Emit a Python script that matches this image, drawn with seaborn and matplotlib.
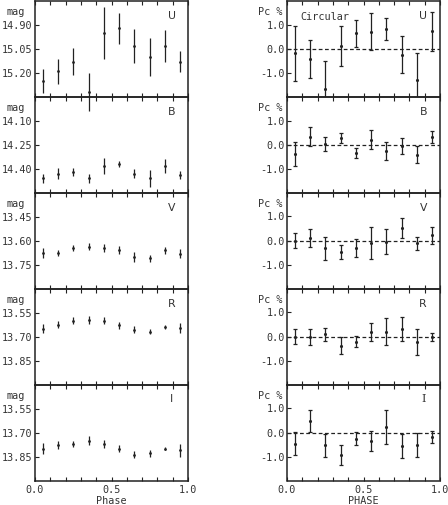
import numpy as np
import pandas as pd
import matplotlib
matplotlib.use("Agg")
import matplotlib.pyplot as plt
import seaborn as sns

# ---------------- data ----------------
phase = [0.05, 0.15, 0.25, 0.35, 0.45, 0.55, 0.65, 0.75, 0.85, 0.95]
bands = ["U", "B", "V", "R", "I"]

mag_U = [15.25, 15.19, 15.13, 15.32, 14.95, 14.92, 15.03, 15.10, 15.03, 15.13]
mag_U_err = [0.075, 0.077, 0.085, 0.12, 0.16, 0.096, 0.106, 0.12, 0.10, 0.066]
mag_B = [14.46, 14.43, 14.42, 14.46, 14.38, 14.37, 14.43, 14.46, 14.38, 14.44]
mag_B_err = [0.03, 0.034, 0.028, 0.03, 0.05, 0.02, 0.03, 0.055, 0.044, 0.025]
mag_V = [13.675, 13.675, 13.644, 13.638, 13.644, 13.66, 13.70, 13.71, 13.66, 13.68]
mag_V_err = [0.03, 0.02, 0.02, 0.022, 0.025, 0.025, 0.03, 0.02, 0.02, 0.03]
mag_R = [13.65, 13.625, 13.60, 13.594, 13.60, 13.63, 13.656, 13.67, 13.64, 13.645]
mag_R_err = [0.03, 0.022, 0.02, 0.025, 0.02, 0.02, 0.022, 0.016, 0.01, 0.03]
mag_I = [13.80, 13.78, 13.77, 13.75, 13.77, 13.80, 13.84, 13.83, 13.80, 13.81]
mag_I_err = [0.034, 0.025, 0.02, 0.028, 0.025, 0.022, 0.022, 0.022, 0.012, 0.04]

pc_U = [-0.18, -0.41, -1.66, 0.11, 0.64, 0.71, 0.82, -0.23, -1.29, 0.72]
pc_U_err = [1.13, 0.78, 1.18, 0.83, 0.56, 0.76, 0.45, 0.75, 1.12, 0.80]
pc_B = [-0.37, 0.34, 0.04, 0.28, -0.33, 0.21, -0.26, -0.04, -0.40, 0.32]
pc_B_err = [0.50, 0.40, 0.28, 0.21, 0.21, 0.39, 0.36, 0.34, 0.34, 0.24]
pc_V = [0.0, 0.13, -0.31, -0.48, -0.31, -0.08, -0.04, 0.53, -0.10, 0.22]
pc_V_err = [0.31, 0.37, 0.47, 0.29, 0.37, 0.65, 0.52, 0.41, 0.27, 0.34]
pc_R = [0.0, -0.03, 0.10, -0.37, -0.21, 0.18, 0.21, 0.32, -0.23, -0.03]
pc_R_err = [0.32, 0.33, 0.26, 0.35, 0.23, 0.37, 0.54, 0.50, 0.53, 0.16]
pc_I = [-0.46, 0.48, -0.52, -0.92, -0.25, -0.34, 0.23, -0.55, -0.51, -0.18]
pc_I_err = [0.48, 0.46, 0.47, 0.41, 0.28, 0.40, 0.70, 0.50, 0.48, 0.26]

mag_ticks = {
    "U": ["14.90", "15.05", "15.20"],
    "B": ["14.10", "14.25", "14.40"],
    "V": ["13.45", "13.60", "13.75"],
    "R": ["13.55", "13.70", "13.85"],
    "I": ["13.55", "13.70", "13.85"],
}
pc_ticks = [1.0, 0.0, -1.0]
pc_tick_labels = ["1.0", "0.0", "-1.0"]
x_ticks = [0.0, 0.5, 1.0]
x_tick_labels = ["0.0", "0.5", "1.0"]

mags = {"U": (mag_U, mag_U_err), "B": (mag_B, mag_B_err), "V": (mag_V, mag_V_err),
        "R": (mag_R, mag_R_err), "I": (mag_I, mag_I_err)}
pcs = {"U": (pc_U, pc_U_err), "B": (pc_B, pc_B_err), "V": (pc_V, pc_V_err),
       "R": (pc_R, pc_R_err), "I": (pc_I, pc_I_err)}

# ---------------- style ----------------
sns.set_style("ticks")
plt.rcParams["font.family"] = ["DejaVu Sans Mono", "DejaVu Sans"]
FS = 7.3
TXT = "#333333"
INK = "#222222"

W, H = 448, 505
fig = plt.figure(figsize=(W / 100, H / 100), dpi=100)

top_px, bot_px = 1.0, 480.5
ph = (bot_px - top_px) / 5
lx0, rx0, aw = 35.0, 287.0, 153.0


def style_axes(ax, show_xlabels):
    ax.set_facecolor("none")
    for s in ax.spines.values():
        s.set_color(INK)
        s.set_linewidth(1.1)
    ax.set_xlim(0, 1)
    ax.set_xticks(x_ticks)
    ax.set_xticks(np.arange(0.1, 1.0, 0.1), minor=True)
    ax.tick_params(axis="x", which="both", direction="in", top=True, bottom=True,
                   length=3, width=0.8, color=INK, labelsize=FS, labelcolor=TXT, pad=3)
    ax.tick_params(axis="y", which="both", direction="in", left=True, right=False,
                   length=3, width=0.8, color=INK, labelsize=FS, labelcolor=TXT, pad=1.5)
    if show_xlabels:
        ax.set_xticklabels(x_tick_labels)
    else:
        ax.set_xticklabels([])


for i, band in enumerate(bands):
    ybot = 1 - (top_px + ph * (i + 1)) / H
    last = i == len(bands) - 1

    # ---- left: magnitude ----
    axl = fig.add_axes([lx0 / W, ybot, aw / W, ph / H])
    axl.set_zorder(10 - i)
    vals, errs = mags[band]
    df = pd.DataFrame({"phase": phase, "val": vals})
    axl.errorbar(phase, vals, yerr=errs, fmt="none", ecolor=INK, elinewidth=0.9,
                 capsize=0, clip_on=False, zorder=3)
    sns.scatterplot(data=df, x="phase", y="val", ax=axl, s=4, color=INK,
                    edgecolor=None, linewidth=0, zorder=4, clip_on=False)
    tv = [float(t) for t in mag_ticks[band]]
    topv = tv[0] - 0.15
    axl.set_ylim(topv + 0.6, topv)
    axl.set_yticks(tv)
    axl.set_yticklabels(mag_ticks[band])
    style_axes(axl, last)
    axl.set_ylabel("")
    axl.set_xlabel("")
    axl.text(-0.125, 0.885, "mag", transform=axl.transAxes, ha="center", va="center",
             fontsize=FS, color=TXT)
    axl.text(0.895, 0.845, band, transform=axl.transAxes, ha="center", va="center",
             fontsize=FS + 0.5, color=TXT, family="DejaVu Sans")

    # ---- right: circular polarisation ----
    axr = fig.add_axes([rx0 / W, ybot, aw / W, ph / H])
    vals, errs = pcs[band]
    df = pd.DataFrame({"phase": phase, "val": vals})
    axr.axhline(0, color=INK, lw=0.9, ls=(0, (3, 2)), zorder=2)
    axr.errorbar(phase, vals, yerr=errs, fmt="none", ecolor=INK, elinewidth=0.9,
                 capsize=1.6, capthick=0.9, zorder=3)
    sns.scatterplot(data=df, x="phase", y="val", ax=axr, s=5, color=INK,
                    edgecolor=None, linewidth=0, zorder=4)
    axr.set_ylim(-1.97, 1.97)
    axr.set_yticks(pc_ticks)
    axr.set_yticklabels(pc_tick_labels)
    style_axes(axr, last)
    axr.set_ylabel("")
    axr.set_xlabel("")
    axr.text(-0.11, 0.885, "Pc %", transform=axr.transAxes, ha="center", va="center",
             fontsize=FS, color=TXT)
    axr.text(0.89, 0.845, band, transform=axr.transAxes, ha="center", va="center",
             fontsize=FS + 0.5, color=TXT, family="DejaVu Serif" if band == "I" else "DejaVu Sans")
    if i == 0:
        axr.text(0.25, 0.835, "Circular", transform=axr.transAxes, ha="center",
                 va="center", fontsize=FS, color=TXT)

    if last:
        axl.set_xlabel("Phase", fontsize=FS, color=TXT, labelpad=1)
        axr.set_xlabel("PHASE", fontsize=FS, color=TXT, labelpad=1)

fig.savefig("out.png", dpi=100)
